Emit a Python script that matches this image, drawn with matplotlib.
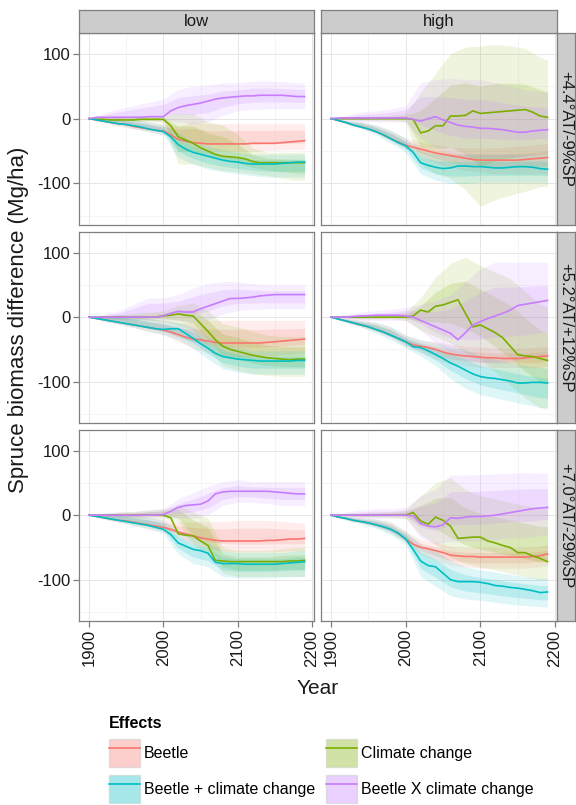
import numpy as np
import matplotlib
matplotlib.use("Agg")
import matplotlib.pyplot as plt
from matplotlib.patches import Patch
from matplotlib.lines import Line2D

plt.rcParams["font.family"] = ["Liberation Sans", "DejaVu Sans"]
plt.rcParams["axes.unicode_minus"] = False

YEARS = list(range(1900, 2191, 10))
BAND_YEARS = [1900, 1920, 1940, 1960, 1980, 2000, 2020, 2040, 2060, 2080,
              2100, 2120, 2140, 2160, 2180, 2190]
EFFECTS = ["Beetle", "Climate change", "Beetle + climate change", "Beetle X climate change"]
COLORS = ["#F8766D", "#7CAE00", "#00BFC4", "#C77CFF"]
LEVELS = ["low", "high"]
SCENARIOS = ["+4.4°AT/-9%SP", "+5.2°AT/+12%SP", "+7.0°AT/-29%SP"]

# ---- row 1 (+4.4°AT/-9%SP), low
L1_BEETLE = [0, -2, -4, -6, -8, -9, -12, -14, -16, -18, -19, -25, -32, -35, -37,
             -38, -39, -39, -39, -39, -39, -39, -38, -38, -38, -38, -37, -36, -35, -34]
L1_CLIMATE = [0, -1, -1, -2, -2, -2, -2, -1, -1, -1, -1, -11, -28, -33, -38,
              -45, -50, -55, -58, -59, -60, -62, -66, -68, -68, -68, -68, -68, -68, -68]
L1_BOTH = [0, -2, -4, -6, -8, -9, -11, -13, -16, -18, -20, -28, -40, -47, -52,
           -55, -58, -61, -64, -66, -67, -69, -70, -70, -70, -70, -69, -68, -67, -67]
L1_INTER = [0, 2, 2, 2, 2, 2, 2, 2, 3, 3, 3, 12, 17, 20, 22,
            24, 27, 30, 32, 33, 34, 35, 35, 36, 36, 36, 36, 35, 34, 34]
L1_BEETLE_LO = [0, -6, -12, -16, -20, -24, -30, -45, -50, -50, -50, -50, -49, -48, -48, -47]
L1_BEETLE_HI = [0, 0, 2, -2, -5, -8, -12, -5, -8, -8, -8, -8, -8, -8, -8, -8]
L1_CLIMATE_LO = [0, -3, -4, -5, -5, -6, -70, -70, -75, -80, -82, -85, -88, -92, -95, -95]
L1_CLIMATE_HI = [0, 2, 4, 5, 5, 5, 8, 8, -5, -10, -25, -45, -52, -52, -52, -52]
L1_BOTH_LO = [0, -5, -10, -15, -20, -25, -60, -70, -78, -82, -85, -88, -90, -90, -90, -90]
L1_BOTH_HI = [0, 0, 0, -2, -5, -10, -22, -35, -42, -48, -52, -55, -55, -55, -55, -55]
L1_INTER_LO = [0, -2, -3, -3, -3, -3, -5, -8, -5, 5, 12, 14, 15, 15, 15, 15]
L1_INTER_HI = [0, 8, 15, 20, 25, 30, 45, 50, 52, 55, 55, 58, 58, 57, 55, 55]

# ---- row 1, high
H1_BEETLE = [0, -3, -6, -10, -13, -16, -20, -25, -31, -36, -41, -44, -47, -50, -53,
             -55, -57, -59, -61, -63, -64, -64, -64, -64, -64, -64, -63, -62, -61, -60]
H1_CLIMATE = [0, 0, 0, 0, 0, 0, 0, 0, 0, 0, 0, -1, -22, -19, -11,
              -11, 4, 4, 5, 12, 8, 9, 10, 11, 12, 13, 14, 10, 4, 2]
H1_BOTH = [0, -3, -6, -10, -13, -16, -20, -25, -31, -37, -42, -52, -68, -72, -75,
           -77, -76, -73, -73, -74, -74, -75, -76, -76, -75, -74, -74, -75, -77, -78]
H1_INTER = [0, 1, 1, 1, 1, 1, 1, 1, 1, 1, 1, -1, -4, 0, 3,
            -2, -6, -10, -12, -13, -15, -15, -16, -17, -19, -21, -21, -19, -18, -17]
H1_BEETLE_LO = [0, -7, -13, -22, -34, -47, -58, -68, -75, -80, -82, -85, -85, -85, -85, -85]
H1_BEETLE_HI = [0, -3, -5, -10, -18, -30, -36, -40, -44, -45, -45, -45, -43, -42, -40, -38]
H1_CLIMATE_LO = [0, -2, -3, -3, -3, -5, -70, -85, -92, -110, -135, -125, -118, -112, -105, -104]
H1_CLIMATE_HI = [0, 2, 3, 4, 5, 8, 40, 70, 100, 110, 112, 114, 112, 108, 95, 90]
H1_BOTH_LO = [0, -8, -15, -25, -38, -52, -85, -95, -100, -100, -98, -98, -98, -98, -98, -98]
H1_BOTH_HI = [0, -3, -5, -10, -18, -30, -50, -55, -55, -55, -55, -55, -55, -55, -55, -55]
H1_INTER_LO = [0, -3, -5, -5, -5, -5, -30, -45, -55, -60, -60, -60, -60, -58, -55, -55]
H1_INTER_HI = [0, 5, 10, 12, 15, 20, 55, 60, 62, 60, 60, 55, 50, 45, 42, 40]

# ---- row 2 (+5.2°AT/+12%SP), low
L2_BEETLE = [0, -2, -4, -6, -8, -10, -12, -14, -16, -18, -20, -23, -27, -31, -34,
             -35, -37, -39, -40, -40, -40, -40, -40, -40, -39, -38, -37, -36, -35, -34]
L2_CLIMATE = [0, 0, 0, 0, 0, 0, 0, 0, 0, 0, 2, 3, 5, 3, 2,
              -10, -22, -35, -45, -50, -53, -56, -59, -61, -63, -64, -65, -66, -65, -65]
L2_BOTH = [0, -2, -4, -6, -8, -10, -12, -14, -16, -18, -19, -18, -18, -25, -33,
           -41, -48, -56, -61, -63, -65, -66, -67, -68, -68, -68, -68, -68, -67, -67]
L2_INTER = [0, 0, 0, 0, 0, 0, 0, 0, 0, 0, 2, 6, 9, 8, 8,
            13, 17, 21, 25, 29, 29, 30, 31, 33, 34, 35, 35, 35, 35, 35]
L2_BEETLE_LO = [0, -6, -11, -16, -22, -27, -38, -48, -55, -60, -61, -61, -60, -58, -56, -55]
L2_BEETLE_HI = [0, 2, 2, 0, -2, -5, -10, -8, -5, -5, -5, -5, -5, -5, -5, -5]
L2_CLIMATE_LO = [0, -2, -4, -5, -5, -6, -12, -20, -50, -75, -82, -88, -90, -92, -92, -92]
L2_CLIMATE_HI = [0, 2, 4, 6, 8, 10, 18, 22, 10, -10, -15, -22, -28, -30, -30, -30]
L2_BOTH_LO = [0, -6, -11, -16, -22, -27, -35, -48, -65, -80, -85, -88, -88, -88, -88, -88]
L2_BOTH_HI = [0, 2, 4, 2, -2, -5, -8, -15, -30, -42, -48, -52, -52, -52, -52, -52]
L2_INTER_LO = [0, -2, -3, -4, -4, -4, -5, -8, -5, 5, 10, 12, 13, 13, 13, 13]
L2_INTER_HI = [0, 5, 10, 20, 30, 30, 35, 45, 52, 55, 55, 52, 50, 50, 50, 50]

# ---- row 2, high
H2_BEETLE = [0, -3, -6, -9, -12, -15, -19, -23, -28, -33, -38, -43, -45, -47, -50,
             -54, -57, -59, -60, -61, -62, -63, -63, -64, -64, -64, -63, -62, -61, -60]
H2_CLIMATE = [0, 0, 0, 0, 0, 0, 0, 0, 0, 0, 0, 2, 11, 8, 17,
              19, 23, 27, 6, -15, -12, -18, -24, -32, -45, -58, -60, -61, -64, -67]
H2_BOTH = [0, -3, -6, -9, -12, -15, -19, -23, -28, -33, -38, -46, -47, -52, -58,
           -64, -71, -76, -82, -88, -92, -94, -95, -97, -99, -102, -102, -101, -101, -102]
H2_INTER = [0, 0, 0, 1, 2, 2, 3, 3, 3, 3, 2, 0, -5, -10, -15,
            -20, -25, -35, -24, -12, -7, -2, 2, 6, 11, 18, 20, 22, 24, 26]
H2_BEETLE_LO = [0, -8, -15, -22, -32, -45, -55, -65, -72, -75, -78, -78, -78, -78, -78, -75]
H2_BEETLE_HI = [0, -2, -5, -8, -15, -28, -35, -38, -42, -45, -46, -48, -48, -48, -46, -45]
H2_CLIMATE_LO = [0, -2, -3, -3, -3, -5, -20, -30, -40, -55, -65, -85, -105, -125, -140, -143]
H2_CLIMATE_HI = [0, 2, 3, 4, 5, 8, 30, 62, 83, 93, 80, 70, 60, 40, 20, 15]
H2_BOTH_LO = [0, -8, -15, -25, -35, -48, -60, -75, -95, -110, -120, -125, -130, -135, -140, -140]
H2_BOTH_HI = [0, -2, -5, -8, -15, -28, -35, -40, -45, -50, -60, -65, -70, -75, -78, -80]
H2_INTER_LO = [0, -3, -5, -5, -5, -5, -20, -40, -55, -65, -70, -70, -68, -65, -60, -60]
H2_INTER_HI = [0, 5, 8, 10, 12, 15, 20, 25, 35, 55, 75, 85, 85, 85, 85, 85]

# ---- row 3 (+7.0°AT/-29%SP), low
L3_BEETLE = [0, -2, -4, -6, -8, -9, -11, -13, -15, -17, -19, -22, -26, -29, -32,
             -35, -37, -39, -40, -40, -40, -40, -40, -40, -39, -39, -38, -37, -37, -36]
L3_CLIMATE = [0, 0, 0, 0, 0, 0, 0, 0, 0, 0, 0, -4, -29, -31, -32,
              -40, -47, -70, -71, -72, -72, -72, -72, -72, -72, -72, -72, -71, -71, -70]
L3_BOTH = [0, -2, -4, -6, -8, -10, -12, -14, -16, -19, -22, -30, -43, -48, -53,
           -55, -59, -73, -75, -75, -75, -76, -76, -76, -76, -76, -75, -74, -73, -72]
L3_INTER = [0, 0, 0, 0, 0, 0, 0, 0, 0, 0, 1, 6, 12, 15, 16,
            17, 22, 33, 36, 37, 37, 37, 37, 37, 37, 36, 35, 34, 33, 33]
L3_BEETLE_LO = [0, -6, -11, -16, -21, -26, -35, -45, -52, -55, -57, -57, -57, -56, -55, -55]
L3_BEETLE_HI = [0, 2, 2, 0, -3, -6, -10, -10, -10, -10, -8, -8, -8, -10, -12, -12]
L3_CLIMATE_LO = [0, -2, -3, -4, -4, -5, -10, -45, -60, -90, -95, -95, -95, -95, -95, -95]
L3_CLIMATE_HI = [0, 3, 5, 6, 8, 10, 15, 5, -5, -50, -55, -55, -55, -52, -50, -50]
L3_BOTH_LO = [0, -6, -11, -16, -21, -28, -60, -75, -80, -95, -97, -97, -97, -96, -95, -95]
L3_BOTH_HI = [0, 2, 3, 0, -3, -8, -25, -35, -42, -55, -58, -58, -58, -58, -55, -55]
L3_INTER_LO = [0, -2, -3, -3, -3, -3, -5, -5, 0, 15, 20, 20, 18, 15, 15, 15]
L3_INTER_HI = [0, 3, 5, 5, 8, 10, 25, 35, 45, 52, 55, 52, 52, 52, 52, 52]

# ---- row 3, high
H3_BEETLE = [0, -3, -5, -8, -10, -12, -15, -18, -22, -28, -37, -45, -50, -52, -55,
             -58, -62, -63, -64, -64, -65, -65, -65, -65, -65, -65, -65, -64, -63, -60]
H3_CLIMATE = [0, 0, 0, 0, 0, 0, 0, 0, 0, 0, 0, 4, -9, -14, -3,
              -8, -17, -36, -35, -34, -34, -40, -43, -47, -50, -58, -58, -63, -67, -72]
H3_BOTH = [0, -3, -5, -8, -10, -12, -15, -18, -22, -28, -37, -53, -71, -78, -80,
           -90, -100, -103, -103, -103, -104, -106, -109, -110, -112, -113, -115, -117, -120, -119]
H3_INTER = [0, 0, 0, 0, 0, 0, 0, 0, 0, 0, 0, -1, -13, -17, -18,
            -15, -4, -5, -3, -2, -2, -1, 0, 2, 4, 6, 8, 10, 11, 12]
H3_BEETLE_LO = [0, -7, -12, -18, -28, -42, -60, -70, -78, -80, -82, -82, -82, -82, -80, -78]
H3_BEETLE_HI = [0, -2, -4, -6, -10, -25, -38, -42, -48, -50, -50, -50, -50, -50, -48, -45]
H3_CLIMATE_LO = [0, -2, -3, -3, -3, -5, -30, -45, -65, -75, -80, -85, -90, -95, -100, -100]
H3_CLIMATE_HI = [0, 2, 3, 4, 5, 8, 30, 50, 58, 40, 30, 25, 20, 15, 10, 10]
H3_BOTH_LO = [0, -8, -13, -20, -30, -45, -95, -110, -125, -130, -132, -135, -138, -140, -142, -142]
H3_BOTH_HI = [0, -2, -4, -6, -12, -25, -45, -55, -70, -80, -85, -88, -92, -95, -98, -98]
H3_INTER_LO = [0, -3, -5, -5, -5, -5, -35, -45, -40, -40, -40, -38, -35, -35, -32, -30]
H3_INTER_HI = [0, 5, 8, 10, 10, 12, 30, 40, 62, 62, 63, 64, 65, 66, 65, 65]

# (row, col) -> list of (mean, lo, hi) in EFFECTS order
PANELS = {
    (0, 0): [(L1_BEETLE, L1_BEETLE_LO, L1_BEETLE_HI), (L1_CLIMATE, L1_CLIMATE_LO, L1_CLIMATE_HI),
             (L1_BOTH, L1_BOTH_LO, L1_BOTH_HI), (L1_INTER, L1_INTER_LO, L1_INTER_HI)],
    (0, 1): [(H1_BEETLE, H1_BEETLE_LO, H1_BEETLE_HI), (H1_CLIMATE, H1_CLIMATE_LO, H1_CLIMATE_HI),
             (H1_BOTH, H1_BOTH_LO, H1_BOTH_HI), (H1_INTER, H1_INTER_LO, H1_INTER_HI)],
    (1, 0): [(L2_BEETLE, L2_BEETLE_LO, L2_BEETLE_HI), (L2_CLIMATE, L2_CLIMATE_LO, L2_CLIMATE_HI),
             (L2_BOTH, L2_BOTH_LO, L2_BOTH_HI), (L2_INTER, L2_INTER_LO, L2_INTER_HI)],
    (1, 1): [(H2_BEETLE, H2_BEETLE_LO, H2_BEETLE_HI), (H2_CLIMATE, H2_CLIMATE_LO, H2_CLIMATE_HI),
             (H2_BOTH, H2_BOTH_LO, H2_BOTH_HI), (H2_INTER, H2_INTER_LO, H2_INTER_HI)],
    (2, 0): [(L3_BEETLE, L3_BEETLE_LO, L3_BEETLE_HI), (L3_CLIMATE, L3_CLIMATE_LO, L3_CLIMATE_HI),
             (L3_BOTH, L3_BOTH_LO, L3_BOTH_HI), (L3_INTER, L3_INTER_LO, L3_INTER_HI)],
    (2, 1): [(H3_BEETLE, H3_BEETLE_LO, H3_BEETLE_HI), (H3_CLIMATE, H3_CLIMATE_LO, H3_CLIMATE_HI),
             (H3_BOTH, H3_BOTH_LO, H3_BOTH_HI), (H3_INTER, H3_INTER_LO, H3_INTER_HI)],
}

W, H = 576, 805
BORDER = "#7F7F7F"
STRIP = "#CCCCCC"
TXT = "#1a1a1a"
COL_X = [(79, 314), (321, 557)]
ROW_Y = [(33, 225), (232, 423), (430, 621)]

fig = plt.figure(figsize=(W / 100, H / 100), dpi=100)


def fx(px):
    return px / W


def fy(py):
    return 1 - py / H


def strip_axes(rect, label, rotation):
    sx = fig.add_axes(rect)
    sx.set_facecolor(STRIP)
    sx.set_xticks([]); sx.set_yticks([])
    for s in sx.spines.values():
        s.set_color(BORDER); s.set_linewidth(0.9)
    sx.text(0.5, 0.5, label, rotation=rotation, ha="center", va="center",
            fontsize=12, color=TXT, transform=sx.transAxes)


yrs = np.array(YEARS)
byrs = np.array(BAND_YEARS)

for (r, c), series in PANELS.items():
    x0, x1 = COL_X[c]
    y0, y1 = ROW_Y[r]
    ax = fig.add_axes([fx(x0), fy(y1), fx(x1 - x0), (y1 - y0) / H])
    ax.set_xlim(1886.5, 2202.7)
    ax.set_ylim(-164, 132)
    ax.set_xticks([1900, 2000, 2100, 2200])
    ax.set_xticks([1950, 2050, 2150], minor=True)
    ax.set_yticks([-100, 0, 100])
    ax.set_yticks([-150, -50, 50], minor=True)
    ax.grid(True, which="major", color="#E6E6E6", lw=0.7)
    ax.grid(True, which="minor", color="#F2F2F2", lw=0.5)
    ax.set_axisbelow(True)
    for s in ax.spines.values():
        s.set_color(BORDER)
        s.set_linewidth(0.9)
    ax.tick_params(which="minor", length=0)
    ax.tick_params(which="major", length=4, width=0.9, color=BORDER,
                   labelsize=12, labelcolor=TXT, pad=2)
    if c != 0:
        ax.tick_params(axis="y", length=0, labelleft=False)
    if r != 2:
        ax.tick_params(axis="x", length=0, labelbottom=False)
    else:
        ax.set_xticklabels(["1900", "2000", "2100", "2200"], rotation=90)

    # ribbons: outer band plus a narrower inner band
    for (mean, lo, hi), col in zip(series, COLORS):
        lo = np.array(lo, float)
        hi = np.array(hi, float)
        mid = (lo + hi) / 2
        half = (hi - lo) / 4
        ax.fill_between(byrs, lo, hi, color=col, alpha=0.13, lw=0)
        ax.fill_between(byrs, mid - half, mid + half, color=col, alpha=0.17, lw=0)
    for (mean, lo, hi), col in zip(series, COLORS):
        ax.plot(yrs, mean, color=col, lw=1.2)

    if c == 1:
        strip_axes([fx(557), fy(y1), fx(575 - 557), (y1 - y0) / H], SCENARIOS[r], -90)
    if r == 0:
        strip_axes([fx(x0), fy(33), fx(x1 - x0), (33 - 10) / H], LEVELS[c], 0)

fig.text(fx(318), fy(688), "Year", ha="center", va="center", fontsize=15, color=TXT)
fig.text(fx(19), fy(320), "Spruce biomass difference (Mg/ha)", rotation=90,
         ha="center", va="center", fontsize=16, color=TXT)

order = [0, 2, 1, 3]
handles = [(Patch(facecolor=COLORS[i], alpha=0.35, edgecolor="#BDBDBD", lw=1),
            Line2D([], [], color=COLORS[i], lw=1.2)) for i in order]
labels = [EFFECTS[i] for i in order]
leg = fig.legend(handles, labels, ncol=2, loc="upper left",
                 bbox_to_anchor=(fx(109), fy(716)), frameon=False,
                 title="Effects", alignment="left", fontsize=11.5,
                 title_fontproperties={"weight": "bold", "size": 11.5},
                 handlelength=1.95, handleheight=2.3, handletextpad=0.25,
                 columnspacing=0.65, labelspacing=0.5, borderpad=0.0,
                 borderaxespad=0.0)

fig.savefig("out.png", dpi=100)
